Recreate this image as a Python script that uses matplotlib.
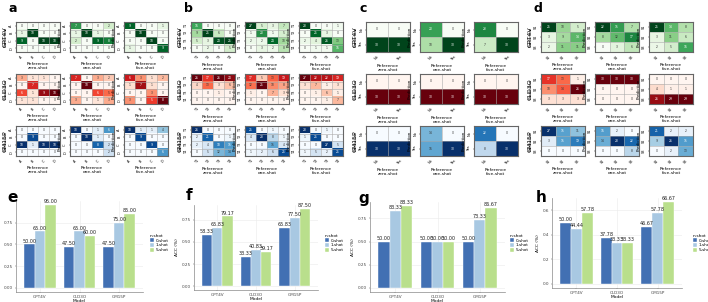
import numpy as np
import matplotlib
matplotlib.use("Agg")
import matplotlib.pyplot as plt

W, H = 708, 302

models = ["GPT4V", "CLD3O", "GM15P"]
shots = ["zero-shot", "one-shot", "five-shot"]
shot_keys = ["0-shot", "1-shot", "5-shot"]
cmaps = {"GPT4V": "Greens", "CLD3O": "Reds", "GM15P": "Blues"}

labels_a = ["A", "B", "C", "D"]
labels_b = ["T1", "T2", "T3", "T4"]
labels_c = ["No", "Yes"]
labels_d = ["S1", "S2", "S3"]

# confusion matrices: rows = prediction, cols = reference
cm_a = {
    "GPT4V": [
        [[0, 0, 0, 0], [1, 10, 0, 0], [9, 0, 10, 10], [0, 0, 0, 0]],
        [[7, 0, 0, 2], [1, 10, 1, 0], [2, 0, 9, 8], [0, 0, 0, 0]],
        [[9, 0, 0, 1], [0, 10, 0, 0], [0, 0, 10, 0], [1, 0, 0, 9]],
    ],
    "CLD3O": [
        [[3, 1, 1, 0], [0, 7, 0, 0], [6, 1, 9, 10], [1, 1, 0, 0]],
        [[7, 0, 3, 2], [0, 10, 0, 0], [0, 0, 6, 5], [3, 0, 1, 3]],
        [[6, 3, 1, 2], [1, 7, 1, 0], [0, 0, 3, 0], [3, 0, 5, 8]],
    ],
    "GM15P": [
        [[0, 0, 0, 0], [0, 9, 0, 0], [10, 1, 10, 10], [0, 0, 0, 0]],
        [[10, 0, 1, 6], [0, 10, 1, 0], [0, 0, 8, 2], [0, 0, 0, 2]],
        [[10, 1, 1, 4], [0, 9, 0, 0], [0, 0, 9, 0], [0, 0, 0, 6]],
    ],
}
cm_b = {
    "GPT4V": [
        [[16, 0, 0, 0], [9, 25, 6, 0], [5, 3, 24, 25], [0, 2, 0, 5]],
        [[27, 5, 3, 7], [1, 20, 1, 5], [2, 2, 24, 10], [0, 3, 2, 8]],
        [[28, 0, 0, 1], [0, 25, 3, 0], [2, 4, 26, 13], [0, 1, 1, 16]],
    ],
    "CLD3O": [
        [[26, 17, 26, 24], [4, 13, 3, 6], [0, 0, 1, 0], [0, 0, 0, 0]],
        [[17, 5, 13, 19], [12, 25, 10, 8], [1, 0, 7, 3], [0, 0, 0, 0]],
        [[27, 22, 22, 19], [3, 7, 1, 3], [0, 1, 6, 1], [0, 0, 1, 7]],
    ],
    "GM15P": [
        [[26, 0, 0, 0], [2, 21, 0, 1], [2, 4, 18, 15], [0, 5, 12, 14]],
        [[25, 0, 1, 0], [4, 28, 8, 1], [0, 0, 15, 4], [1, 2, 6, 25]],
        [[28, 0, 1, 0], [1, 25, 0, 0], [0, 0, 27, 5], [1, 5, 2, 25]],
    ],
}
cm_c = {
    "GPT4V": [[[0, 0], [30, 30]], [[20, 0], [10, 30]], [[23, 0], [7, 30]]],
    "CLD3O": [[[0, 0], [30, 30]], [[0, 0], [30, 30]], [[0, 0], [30, 30]]],
    "GM15P": [[[0, 0], [30, 30]], [[14, 0], [16, 30]], [[22, 0], [8, 30]]],
}
cm_d = {
    "GPT4V": [
        [[25, 10, 5], [3, 9, 14], [2, 11, 11]],
        [[22, 15, 7], [8, 12, 17], [0, 3, 6]],
        [[25, 14, 8], [3, 11, 6], [2, 5, 16]],
    ],
    "CLD3O": [
        [[17, 13, 1], [10, 14, 26], [3, 3, 3]],
        [[30, 30, 30], [0, 0, 0], [0, 0, 0]],
        [[0, 0, 0], [4, 1, 1], [26, 29, 29]],
    ],
    "GM15P": [
        [[27, 15, 11], [3, 15, 19], [0, 0, 0]],
        [[16, 2, 0], [14, 28, 22], [0, 0, 8]],
        [[21, 2, 2], [9, 26, 15], [0, 2, 13]],
    ],
}

# accuracy per model for 0/1/5-shot
acc_e = {"GPT4V": [50.00, 65.00, 95.00], "CLD3O": [47.50, 65.00, 60.00], "GM15P": [47.50, 75.00, 85.00]}
acc_f = {"GPT4V": [58.33, 65.83, 79.17], "CLD3O": [33.33, 40.83, 39.17], "GM15P": [65.83, 77.50, 87.50]}
acc_g = {"GPT4V": [50.00, 83.33, 88.33], "CLD3O": [50.00, 50.00, 50.00], "GM15P": [50.00, 73.33, 86.67]}
acc_h = {"GPT4V": [50.00, 44.44, 57.78], "CLD3O": [37.78, 33.33, 33.33], "GM15P": [46.67, 57.78, 66.67]}

bar_colors = ["#4270b3", "#a8c8e2", "#b9df8c"]


def px(x0, y0, w, h):
    return [x0 / W, 1 - (y0 + h) / H, w / W, h / H]


fig = plt.figure(figsize=(W / 100, H / 100), dpi=100)

panels = [("a", 0, cm_a, labels_a), ("b", 175, cm_b, labels_b),
          ("c", 350, cm_c, labels_c), ("d", 525, cm_d, labels_d)]
col_x = [16, 70, 124]
row_y = [22, 74, 126]

for letter, ox, cms, labs in panels:
    fig.text((ox + 13) / W, 1 - 9 / H, letter, fontsize=9, fontweight="bold",
             ha="center", va="center")
    for r, m in enumerate(models):
        fig.text((ox + 5) / W, 1 - (row_y[r] + 15) / H, m, fontsize=4.5,
                 rotation=90, ha="center", va="center")
        for c in range(3):
            mat = np.array(cms[m][c])
            n = mat.shape[0]
            ax = fig.add_axes(px(ox + col_x[c], row_y[r], 44, 30))
            ax.imshow(mat, cmap=cmaps[m], aspect="auto", vmin=0, vmax=mat.max() if mat.max() > 0 else 1)
            for i in range(n):
                for j in range(n):
                    v = mat[i, j]
                    col = "white" if v > 0.55 * mat.max() else "#333333"
                    ax.text(j, i, str(v), ha="center", va="center", fontsize=2.2, color=col)
            for k in range(1, n):
                ax.axhline(k - 0.5, color="#aaaaaa", lw=0.4)
                ax.axvline(k - 0.5, color="#aaaaaa", lw=0.4)
            ax.set_xticks(range(n))
            ax.set_yticks(range(n))
            ax.set_xticklabels(labs, rotation=45, fontsize=2.5)
            ax.set_yticklabels(labs, rotation=90, fontsize=2.5, va="center")
            ax.tick_params(length=1, width=0.3, pad=1)
            ax.set_xlabel("Reference\n" + shots[c], fontsize=3.2, labelpad=1.5, linespacing=1.1)
            ax.set_ylabel("Prediction", fontsize=3, labelpad=1)
            for s in ax.spines.values():
                s.set_color("#666666")
                s.set_linewidth(0.8)

bar_panels = [
    ("e", acc_e, (16, 201, 127, 91), (13, 197), 148, [0, 0.25, 0.5, 0.75], "%.2f"),
    ("f", acc_f, (194, 205, 124, 85), (189, 195), 323, [0, 0.25, 0.5, 0.75], "%.2f"),
    ("g", acc_g, (370, 202, 135, 90), (364, 198), 508, [0, 0.25, 0.5, 0.75], "%.2f"),
    ("h", acc_h, (552, 198, 130, 90), (541, 198), 691, [0, 0.2, 0.4, 0.6], "%.1f"),
]

for letter, acc, box, lab_xy, leg_x, yt, fmt in bar_panels:
    fig.text(lab_xy[0] / W, 1 - lab_xy[1] / H, letter, fontsize=11, fontweight="bold",
             ha="center", va="center")
    ax = fig.add_axes(px(*box))
    x = np.arange(1, len(models) + 1)
    bw = 0.8 / 3
    vmax = 0
    handles = []
    for k in range(3):
        vals = np.array([acc[m][k] for m in models]) / 100
        vmax = max(vmax, vals.max())
        b = ax.bar(x + (k - 1) * bw, vals, bw, color=bar_colors[k], edgecolor="white",
                   linewidth=0.3, label=shot_keys[k], zorder=2)
        handles.append(b)
        for xi, v in zip(x + (k - 1) * bw, vals):
            ax.text(xi, v + 0.008, "%.2f" % (v * 100), ha="center", va="bottom",
                    fontsize=3.5, color="#222222")
    ax.set_xlim(0.4, 3.6)
    ax.set_ylim(-0.05 * vmax, 1.05 * vmax)
    ax.set_xticks(x)
    ax.set_xticklabels(models, fontsize=3)
    ax.set_yticks(yt)
    ax.set_yticklabels([fmt % t for t in yt], fontsize=3)
    ax.tick_params(length=1, width=0.3, pad=1, colors="#444444")
    ax.set_xlabel("Model", fontsize=3.2, labelpad=0.5)
    ax.set_ylabel("ACC (%)", fontsize=3.2, labelpad=2)
    ax.grid(True, color="#ebebeb", lw=0.4, zorder=0)
    ax.set_axisbelow(True)
    for s in ["top", "right"]:
        ax.spines[s].set_visible(False)
    for s in ["left", "bottom"]:
        ax.spines[s].set_color("#888888")
        ax.spines[s].set_linewidth(0.5)
    fig.legend(handles=handles, labels=shot_keys, title="n-shot", fontsize=3, title_fontsize=3.2,
               loc="center left", bbox_to_anchor=(leg_x / W, 1 - 243 / H), frameon=False,
               handlelength=1.0, handleheight=1.0, handletextpad=0.4, labelspacing=0.1,
               borderpad=0, alignment="left")

fig.savefig("out.png", dpi=100)
